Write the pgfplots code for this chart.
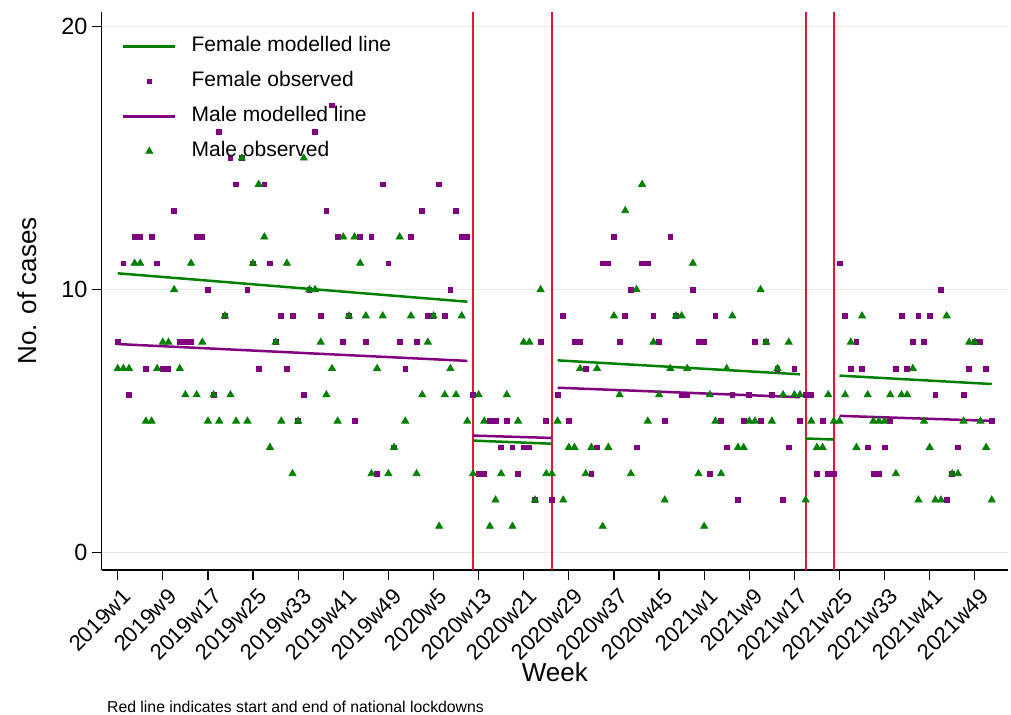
\documentclass[border=0pt]{standalone}
\usepackage{pgfplots}
\pgfplotsset{compat=1.18}
\usepackage{pgfplotstable}
\usepackage{fontspec}
\setmainfont{Liberation Sans}
\definecolor{sgreen}{RGB}{0,128,0}
\definecolor{spurple}{RGB}{128,0,128}
\definecolor{sred}{RGB}{235,20,50}
\definecolor{sgrid}{RGB}{234,234,234}
\pgfplotsset{
  lineleg/.style={legend image code/.code={\draw[##1] (0pt,0pt) -- (26pt,0pt);}},
  markleg/.style={legend image code/.code={\draw[##1] plot coordinates {(13pt,0pt)};}},
}

\pgfplotstableread{
w F M
1 8 7
2 11 7
3 6 7
4 12 11
5 12 11
6 7 5
7 12 5
8 11 7
9 7 8
10 7 8
11 13 10
12 8 7
13 8 6
14 8 11
15 12 6
16 12 8
17 10 5
18 6 6
19 16 5
20 9 9
21 15 6
22 14 5
23 15 15
24 10 5
25 11 11
26 7 14
27 14 12
28 11 4
29 8 8
30 9 5
31 7 11
32 9 3
33 5 5
34 6 15
35 10 10
36 16 10
37 9 8
38 13 6
39 17 7
40 12 5
41 8 12
42 9 9
43 5 12
44 12 11
45 8 9
46 12 3
47 3 7
48 14 9
49 11 3
50 4 4
51 8 12
52 7 5
53 12 9
54 8 3
55 13 6
56 9 8
57 9 9
58 14 1
59 9 6
60 10 7
61 13 6
62 12 9
63 12 5
64 6 3
65 3 6
66 3 5
67 5 1
68 5 2
69 4 3
70 5 6
71 4 1
72 3 5
73 4 8
74 4 8
75 2 2
76 8 10
77 5 3
78 2 3
79 6 5
80 9 2
81 5 4
82 8 4
83 8 7
84 7 3
85 3 4
86 4 7
87 11 1
88 11 4
89 12 9
90 8 6
91 9 13
92 10 3
93 4 10
94 11 14
95 11 5
96 9 8
97 8 6
98 5 2
99 12 7
100 9 9
101 6 9
102 6 7
103 10 11
104 8 3
105 8 1
106 3 6
107 9 5
108 5 3
109 4 7
110 6 9
111 2 4
112 5 4
113 6 5
114 8 5
115 5 10
116 8 8
117 6 5
118 7 7
119 2 6
120 4 8
121 7 6
122 5 6
123 6 2
124 6 5
125 3 4
126 5 4
127 3 6
128 3 5
129 11 5
130 9 6
131 7 8
132 8 4
133 7 9
134 4 6
135 3 5
136 3 5
137 4 5
138 5 6
139 7 3
140 9 6
141 7 6
142 8 7
143 9 2
144 8 5
145 9 4
146 6 2
147 10 2
148 2 9
149 3 3
150 4 3
151 6 5
152 7 8
153 8 8
154 8 5
155 7 4
156 5 2
}\obs

\begin{document}
\begin{tikzpicture}
\useasboundingbox (-50.85pt,-72.5pt) rectangle (454.65pt,285pt);
\begin{axis}[
  at={(0pt,0pt)}, anchor=south west,
  scale only axis, width=453.2pt, height=279.2pt,
  xmin=-1.84, xmax=158.9, ymin=-0.66, ymax=20.57,
  axis x line*=bottom, axis y line*=left,
  axis line style={black, line width=0.6pt},
  tick align=outside,
  major tick length=5pt,
  tick style={black, line width=0.6pt},
  xtick={1,9,17,25,33,41,49,57,65,73,81,89,97,105,113,121,129,137,145,153},
  xticklabels={2019w1,2019w9,2019w17,2019w25,2019w33,2019w41,2019w49,2020w5,2020w13,2020w21,2020w29,2020w37,2020w45,2021w1,2021w9,2021w17,2021w25,2021w33,2021w41,2021w49},
  ytick={0,10,20},
  minor tick num=0, xminorticks=false, yminorticks=false,
  ymajorgrids, grid style={sgrid, line width=0.6pt},
  /pgf/number format/assume math mode=true,
  xticklabel style={xshift=2pt, yshift=-2pt, rotate=45, anchor=north east, inner sep=1pt, font=\fontsize{11}{13}\selectfont},
  yticklabel style={font=\fontsize{11.7}{14}\selectfont, inner sep=2pt},
  xlabel={Week}, ylabel={No. of cases},
  xlabel style={font=\fontsize{13}{15}\selectfont, at={(axis description cs:0.5,-0.1827)}, anchor=center},
  ylabel style={font=\fontsize{13}{15}\selectfont, at={(axis description cs:-0.0825,0.5)}, anchor=center},
  unbounded coords=jump,
  legend style={at={(axis description cs:0.0221,0.9573)}, anchor=north west, draw=none, fill=none,
    font=\fontsize{10.5}{12}\selectfont, inner xsep=0pt, inner ysep=0pt,
    column sep=7.5pt, row sep=7pt,
    nodes={inner sep=0pt, text height=7.6pt, text depth=2.9pt},
    cells={anchor=west}},
]
% lockdown lines
\addplot[sred, line width=1.1pt, forget plot] coordinates {(64,-0.66) (64,20.57)};
\addplot[sred, line width=1.1pt, forget plot] coordinates {(78,-0.66) (78,20.57)};
\addplot[sred, line width=1.1pt, forget plot] coordinates {(123,-0.66) (123,20.57)};
\addplot[sred, line width=1.1pt, forget plot] coordinates {(128,-0.66) (128,20.57)};

% Female modelled line
\addplot[sgreen, line width=1.25pt, no marks, lineleg]
  coordinates {(1,10.62) (63,9.54) (63.5,nan) (64,4.26) (78,4.14) (78.5,nan)
  (79,7.31) (122,6.78) (122.5,nan) (123,4.34) (128,4.30) (128.5,nan) (129,6.73) (156,6.41)};
% Female observed
\addplot[only marks, mark=square*, mark size=1.2pt, color=spurple, markleg]
  table[x=w, y=F] {\obs};
% Male modelled line
\addplot[spurple, line width=1.25pt, no marks, lineleg]
  coordinates {(1,7.93) (63,7.29) (63.5,nan) (64,4.45) (78,4.36) (78.5,nan)
  (79,6.27) (122,5.91) (122.5,nan) (129,5.20) (156,5.01)};
% Male observed
\addplot[only marks, mark=triangle*, mark size=2pt, color=sgreen, markleg]
  table[x=w, y=M] {\obs};
\legend{Female modelled line, Female observed, Male modelled line, Male observed}
\end{axis}
\node[anchor=base west, font=\fontsize{7.9}{10}\selectfont, inner sep=0pt] at (2.5pt,-71.3pt)
  {Red line indicates start and end of national lockdowns};
\end{tikzpicture}
\end{document}
